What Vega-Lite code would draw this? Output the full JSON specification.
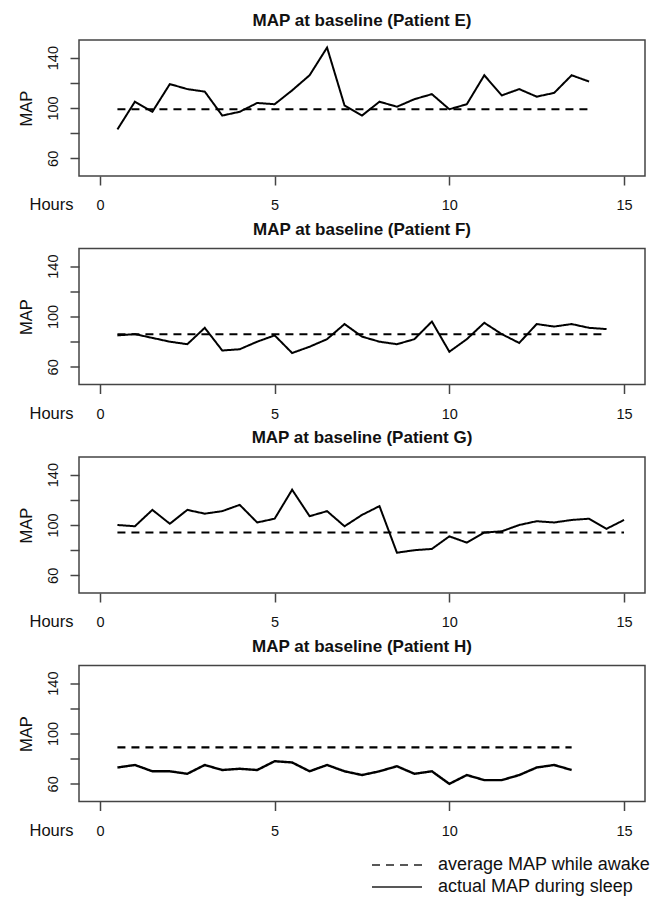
{
  "$schema": "https://vega.github.io/schema/vega-lite/v6.json",
  "autosize": {"type": "pad"},
  "padding": {"left": 17, "top": 11, "right": 5, "bottom": 5},
  "background": "white",
  "bounds": "flush",
  "spacing": 72.5,
  "data": {"values": [
    {"patient":"E","series":"actual MAP during sleep","hour":0.5,"map":83},
    {"patient":"E","series":"actual MAP during sleep","hour":1,"map":105},
    {"patient":"E","series":"actual MAP during sleep","hour":1.5,"map":97},
    {"patient":"E","series":"actual MAP during sleep","hour":2,"map":119},
    {"patient":"E","series":"actual MAP during sleep","hour":2.5,"map":115},
    {"patient":"E","series":"actual MAP during sleep","hour":3,"map":113},
    {"patient":"E","series":"actual MAP during sleep","hour":3.5,"map":94},
    {"patient":"E","series":"actual MAP during sleep","hour":4,"map":97},
    {"patient":"E","series":"actual MAP during sleep","hour":4.5,"map":104},
    {"patient":"E","series":"actual MAP during sleep","hour":5,"map":103},
    {"patient":"E","series":"actual MAP during sleep","hour":5.5,"map":114},
    {"patient":"E","series":"actual MAP during sleep","hour":6,"map":126},
    {"patient":"E","series":"actual MAP during sleep","hour":6.5,"map":148},
    {"patient":"E","series":"actual MAP during sleep","hour":7,"map":102},
    {"patient":"E","series":"actual MAP during sleep","hour":7.5,"map":94},
    {"patient":"E","series":"actual MAP during sleep","hour":8,"map":105},
    {"patient":"E","series":"actual MAP during sleep","hour":8.5,"map":101},
    {"patient":"E","series":"actual MAP during sleep","hour":9,"map":107},
    {"patient":"E","series":"actual MAP during sleep","hour":9.5,"map":111},
    {"patient":"E","series":"actual MAP during sleep","hour":10,"map":99},
    {"patient":"E","series":"actual MAP during sleep","hour":10.5,"map":103},
    {"patient":"E","series":"actual MAP during sleep","hour":11,"map":126},
    {"patient":"E","series":"actual MAP during sleep","hour":11.5,"map":110},
    {"patient":"E","series":"actual MAP during sleep","hour":12,"map":115},
    {"patient":"E","series":"actual MAP during sleep","hour":12.5,"map":109},
    {"patient":"E","series":"actual MAP during sleep","hour":13,"map":112},
    {"patient":"E","series":"actual MAP during sleep","hour":13.5,"map":126},
    {"patient":"E","series":"actual MAP during sleep","hour":14,"map":121},
    {"patient":"E","series":"average MAP while awake","hour":0.5,"map":99},
    {"patient":"E","series":"average MAP while awake","hour":14,"map":99},
    {"patient":"F","series":"actual MAP during sleep","hour":0.5,"map":85},
    {"patient":"F","series":"actual MAP during sleep","hour":1,"map":86},
    {"patient":"F","series":"actual MAP during sleep","hour":1.5,"map":83},
    {"patient":"F","series":"actual MAP during sleep","hour":2,"map":80},
    {"patient":"F","series":"actual MAP during sleep","hour":2.5,"map":78},
    {"patient":"F","series":"actual MAP during sleep","hour":3,"map":91},
    {"patient":"F","series":"actual MAP during sleep","hour":3.5,"map":73},
    {"patient":"F","series":"actual MAP during sleep","hour":4,"map":74},
    {"patient":"F","series":"actual MAP during sleep","hour":4.5,"map":80},
    {"patient":"F","series":"actual MAP during sleep","hour":5,"map":85},
    {"patient":"F","series":"actual MAP during sleep","hour":5.5,"map":71},
    {"patient":"F","series":"actual MAP during sleep","hour":6,"map":76},
    {"patient":"F","series":"actual MAP during sleep","hour":6.5,"map":82},
    {"patient":"F","series":"actual MAP during sleep","hour":7,"map":94},
    {"patient":"F","series":"actual MAP during sleep","hour":7.5,"map":84},
    {"patient":"F","series":"actual MAP during sleep","hour":8,"map":80},
    {"patient":"F","series":"actual MAP during sleep","hour":8.5,"map":78},
    {"patient":"F","series":"actual MAP during sleep","hour":9,"map":82},
    {"patient":"F","series":"actual MAP during sleep","hour":9.5,"map":96},
    {"patient":"F","series":"actual MAP during sleep","hour":10,"map":72},
    {"patient":"F","series":"actual MAP during sleep","hour":10.5,"map":82},
    {"patient":"F","series":"actual MAP during sleep","hour":11,"map":95},
    {"patient":"F","series":"actual MAP during sleep","hour":11.5,"map":86},
    {"patient":"F","series":"actual MAP during sleep","hour":12,"map":79},
    {"patient":"F","series":"actual MAP during sleep","hour":12.5,"map":94},
    {"patient":"F","series":"actual MAP during sleep","hour":13,"map":92},
    {"patient":"F","series":"actual MAP during sleep","hour":13.5,"map":94},
    {"patient":"F","series":"actual MAP during sleep","hour":14,"map":91},
    {"patient":"F","series":"actual MAP during sleep","hour":14.5,"map":90},
    {"patient":"F","series":"average MAP while awake","hour":0.5,"map":86},
    {"patient":"F","series":"average MAP while awake","hour":14.5,"map":86},
    {"patient":"G","series":"actual MAP during sleep","hour":0.5,"map":100},
    {"patient":"G","series":"actual MAP during sleep","hour":1,"map":99},
    {"patient":"G","series":"actual MAP during sleep","hour":1.5,"map":112},
    {"patient":"G","series":"actual MAP during sleep","hour":2,"map":101},
    {"patient":"G","series":"actual MAP during sleep","hour":2.5,"map":112},
    {"patient":"G","series":"actual MAP during sleep","hour":3,"map":109},
    {"patient":"G","series":"actual MAP during sleep","hour":3.5,"map":111},
    {"patient":"G","series":"actual MAP during sleep","hour":4,"map":116},
    {"patient":"G","series":"actual MAP during sleep","hour":4.5,"map":102},
    {"patient":"G","series":"actual MAP during sleep","hour":5,"map":105},
    {"patient":"G","series":"actual MAP during sleep","hour":5.5,"map":128},
    {"patient":"G","series":"actual MAP during sleep","hour":6,"map":107},
    {"patient":"G","series":"actual MAP during sleep","hour":6.5,"map":111},
    {"patient":"G","series":"actual MAP during sleep","hour":7,"map":99},
    {"patient":"G","series":"actual MAP during sleep","hour":7.5,"map":108},
    {"patient":"G","series":"actual MAP during sleep","hour":8,"map":115},
    {"patient":"G","series":"actual MAP during sleep","hour":8.5,"map":78},
    {"patient":"G","series":"actual MAP during sleep","hour":9,"map":80},
    {"patient":"G","series":"actual MAP during sleep","hour":9.5,"map":81},
    {"patient":"G","series":"actual MAP during sleep","hour":10,"map":91},
    {"patient":"G","series":"actual MAP during sleep","hour":10.5,"map":86},
    {"patient":"G","series":"actual MAP during sleep","hour":11,"map":94},
    {"patient":"G","series":"actual MAP during sleep","hour":11.5,"map":95},
    {"patient":"G","series":"actual MAP during sleep","hour":12,"map":100},
    {"patient":"G","series":"actual MAP during sleep","hour":12.5,"map":103},
    {"patient":"G","series":"actual MAP during sleep","hour":13,"map":102},
    {"patient":"G","series":"actual MAP during sleep","hour":13.5,"map":104},
    {"patient":"G","series":"actual MAP during sleep","hour":14,"map":105},
    {"patient":"G","series":"actual MAP during sleep","hour":14.5,"map":97},
    {"patient":"G","series":"actual MAP during sleep","hour":15,"map":104},
    {"patient":"G","series":"average MAP while awake","hour":0.5,"map":94},
    {"patient":"G","series":"average MAP while awake","hour":15,"map":94},
    {"patient":"H","series":"actual MAP during sleep","hour":0.5,"map":73},
    {"patient":"H","series":"actual MAP during sleep","hour":1,"map":75},
    {"patient":"H","series":"actual MAP during sleep","hour":1.5,"map":70},
    {"patient":"H","series":"actual MAP during sleep","hour":2,"map":70},
    {"patient":"H","series":"actual MAP during sleep","hour":2.5,"map":68},
    {"patient":"H","series":"actual MAP during sleep","hour":3,"map":75},
    {"patient":"H","series":"actual MAP during sleep","hour":3.5,"map":71},
    {"patient":"H","series":"actual MAP during sleep","hour":4,"map":72},
    {"patient":"H","series":"actual MAP during sleep","hour":4.5,"map":71},
    {"patient":"H","series":"actual MAP during sleep","hour":5,"map":78},
    {"patient":"H","series":"actual MAP during sleep","hour":5.5,"map":77},
    {"patient":"H","series":"actual MAP during sleep","hour":6,"map":70},
    {"patient":"H","series":"actual MAP during sleep","hour":6.5,"map":75},
    {"patient":"H","series":"actual MAP during sleep","hour":7,"map":70},
    {"patient":"H","series":"actual MAP during sleep","hour":7.5,"map":67},
    {"patient":"H","series":"actual MAP during sleep","hour":8,"map":70},
    {"patient":"H","series":"actual MAP during sleep","hour":8.5,"map":74},
    {"patient":"H","series":"actual MAP during sleep","hour":9,"map":68},
    {"patient":"H","series":"actual MAP during sleep","hour":9.5,"map":70},
    {"patient":"H","series":"actual MAP during sleep","hour":10,"map":60},
    {"patient":"H","series":"actual MAP during sleep","hour":10.5,"map":67},
    {"patient":"H","series":"actual MAP during sleep","hour":11,"map":63},
    {"patient":"H","series":"actual MAP during sleep","hour":11.5,"map":63},
    {"patient":"H","series":"actual MAP during sleep","hour":12,"map":67},
    {"patient":"H","series":"actual MAP during sleep","hour":12.5,"map":73},
    {"patient":"H","series":"actual MAP during sleep","hour":13,"map":75},
    {"patient":"H","series":"actual MAP during sleep","hour":13.5,"map":71},
    {"patient":"H","series":"average MAP while awake","hour":0.5,"map":89},
    {"patient":"H","series":"average MAP while awake","hour":13.5,"map":89}
  ]},
  "resolve": {"scale": {"strokeDash": "shared"}, "legend": {"strokeDash": "shared"}},
  "vconcat": [
    {
      "width": 566, "height": 136,
      "title": {"text": "MAP at baseline (Patient E)"},
      "transform": [{"filter": "datum.patient === 'E'"}],
      "mark": {"type": "line", "color": "black", "strokeWidth": 2},
      "encoding": {
        "x": {"field": "hour", "type": "quantitative", "scale": {"domain": [-0.6, 15.6], "nice": false, "zero": false}, "axis": {"title": "Hours", "values": [0, 5, 10, 15]}},
        "y": {"field": "map", "type": "quantitative", "scale": {"domain": [46, 154], "nice": false, "zero": false}, "axis": {"title": "MAP", "values": [60, 80, 100, 120, 140], "labelExpr": "datum.value % 40 == 0 ? '' : datum.label"}},
        "strokeDash": {"field": "series", "type": "nominal", "scale": {"domain": ["average MAP while awake", "actual MAP during sleep"], "range": [[8, 6], [1, 0]]}, "legend": {"title": null}}
      }
    },
    {
      "width": 566, "height": 136,
      "title": {"text": "MAP at baseline (Patient F)"},
      "transform": [{"filter": "datum.patient === 'F'"}],
      "mark": {"type": "line", "color": "black", "strokeWidth": 2},
      "encoding": {
        "x": {"field": "hour", "type": "quantitative", "scale": {"domain": [-0.6, 15.6], "nice": false, "zero": false}, "axis": {"title": "Hours", "values": [0, 5, 10, 15]}},
        "y": {"field": "map", "type": "quantitative", "scale": {"domain": [46, 154], "nice": false, "zero": false}, "axis": {"title": "MAP", "values": [60, 80, 100, 120, 140], "labelExpr": "datum.value % 40 == 0 ? '' : datum.label"}},
        "strokeDash": {"field": "series", "type": "nominal", "scale": {"domain": ["average MAP while awake", "actual MAP during sleep"], "range": [[8, 6], [1, 0]]}, "legend": {"title": null}}
      }
    },
    {
      "width": 566, "height": 136,
      "title": {"text": "MAP at baseline (Patient G)"},
      "transform": [{"filter": "datum.patient === 'G'"}],
      "mark": {"type": "line", "color": "black", "strokeWidth": 2},
      "encoding": {
        "x": {"field": "hour", "type": "quantitative", "scale": {"domain": [-0.6, 15.6], "nice": false, "zero": false}, "axis": {"title": "Hours", "values": [0, 5, 10, 15]}},
        "y": {"field": "map", "type": "quantitative", "scale": {"domain": [46, 154], "nice": false, "zero": false}, "axis": {"title": "MAP", "values": [60, 80, 100, 120, 140], "labelExpr": "datum.value % 40 == 0 ? '' : datum.label"}},
        "strokeDash": {"field": "series", "type": "nominal", "scale": {"domain": ["average MAP while awake", "actual MAP during sleep"], "range": [[8, 6], [1, 0]]}, "legend": {"title": null}}
      }
    },
    {
      "width": 566, "height": 136,
      "title": {"text": "MAP at baseline (Patient H)"},
      "transform": [{"filter": "datum.patient === 'H'"}],
      "mark": {"type": "line", "color": "black", "strokeWidth": 2.4},
      "encoding": {
        "x": {"field": "hour", "type": "quantitative", "scale": {"domain": [-0.6, 15.6], "nice": false, "zero": false}, "axis": {"title": "Hours", "values": [0, 5, 10, 15]}},
        "y": {"field": "map", "type": "quantitative", "scale": {"domain": [46, 154], "nice": false, "zero": false}, "axis": {"title": "MAP", "values": [60, 80, 100, 120, 140], "labelExpr": "datum.value % 40 == 0 ? '' : datum.label"}},
        "strokeDash": {"field": "series", "type": "nominal", "scale": {"domain": ["average MAP while awake", "actual MAP during sleep"], "range": [[8, 6], [1, 0]]}, "legend": {"title": null}}
      }
    }
  ],
  "config": {
    "font": "Liberation Sans",
    "view": {"stroke": "#444", "strokeWidth": 1.5},
    "title": {"fontSize": 17, "fontWeight": "bold", "color": "#111", "baseline": "alphabetic", "offset": 10, "anchor": "middle"},
    "axis": {"grid": false, "domain": false, "tickColor": "#444", "tickWidth": 1.5, "tickSize": 9, "labelColor": "#111", "labelFontSize": 14.5, "titleColor": "#111", "titleFontSize": 16.5, "titleFontWeight": "normal"},
    "axisX": {"labelBaseline": "alphabetic", "labelPadding": 24.5, "labelFlush": false, "titleX": -6, "titleY": 33.6, "titleAlign": "right", "titleBaseline": "alphabetic", "titleAnchor": null},
    "axisY": {"labelAngle": -90, "labelAlign": "center", "labelBaseline": "bottom", "labelPadding": 9.5, "titleX": -53, "titleY": 68, "titleAlign": "center", "titleBaseline": "middle", "titleAngle": -90},
    "legend": {"orient": "none", "legendX": 292, "legendY": 814, "symbolType": "M-1,0H4", "symbolSize": 400, "symbolStrokeWidth": 1.5, "symbolStrokeColor": "#222", "symbolFillColor": "transparent", "labelFontSize": 18, "labelColor": "#111", "labelOffset": 45, "labelLimit": 400, "rowPadding": 2}
  }
}
